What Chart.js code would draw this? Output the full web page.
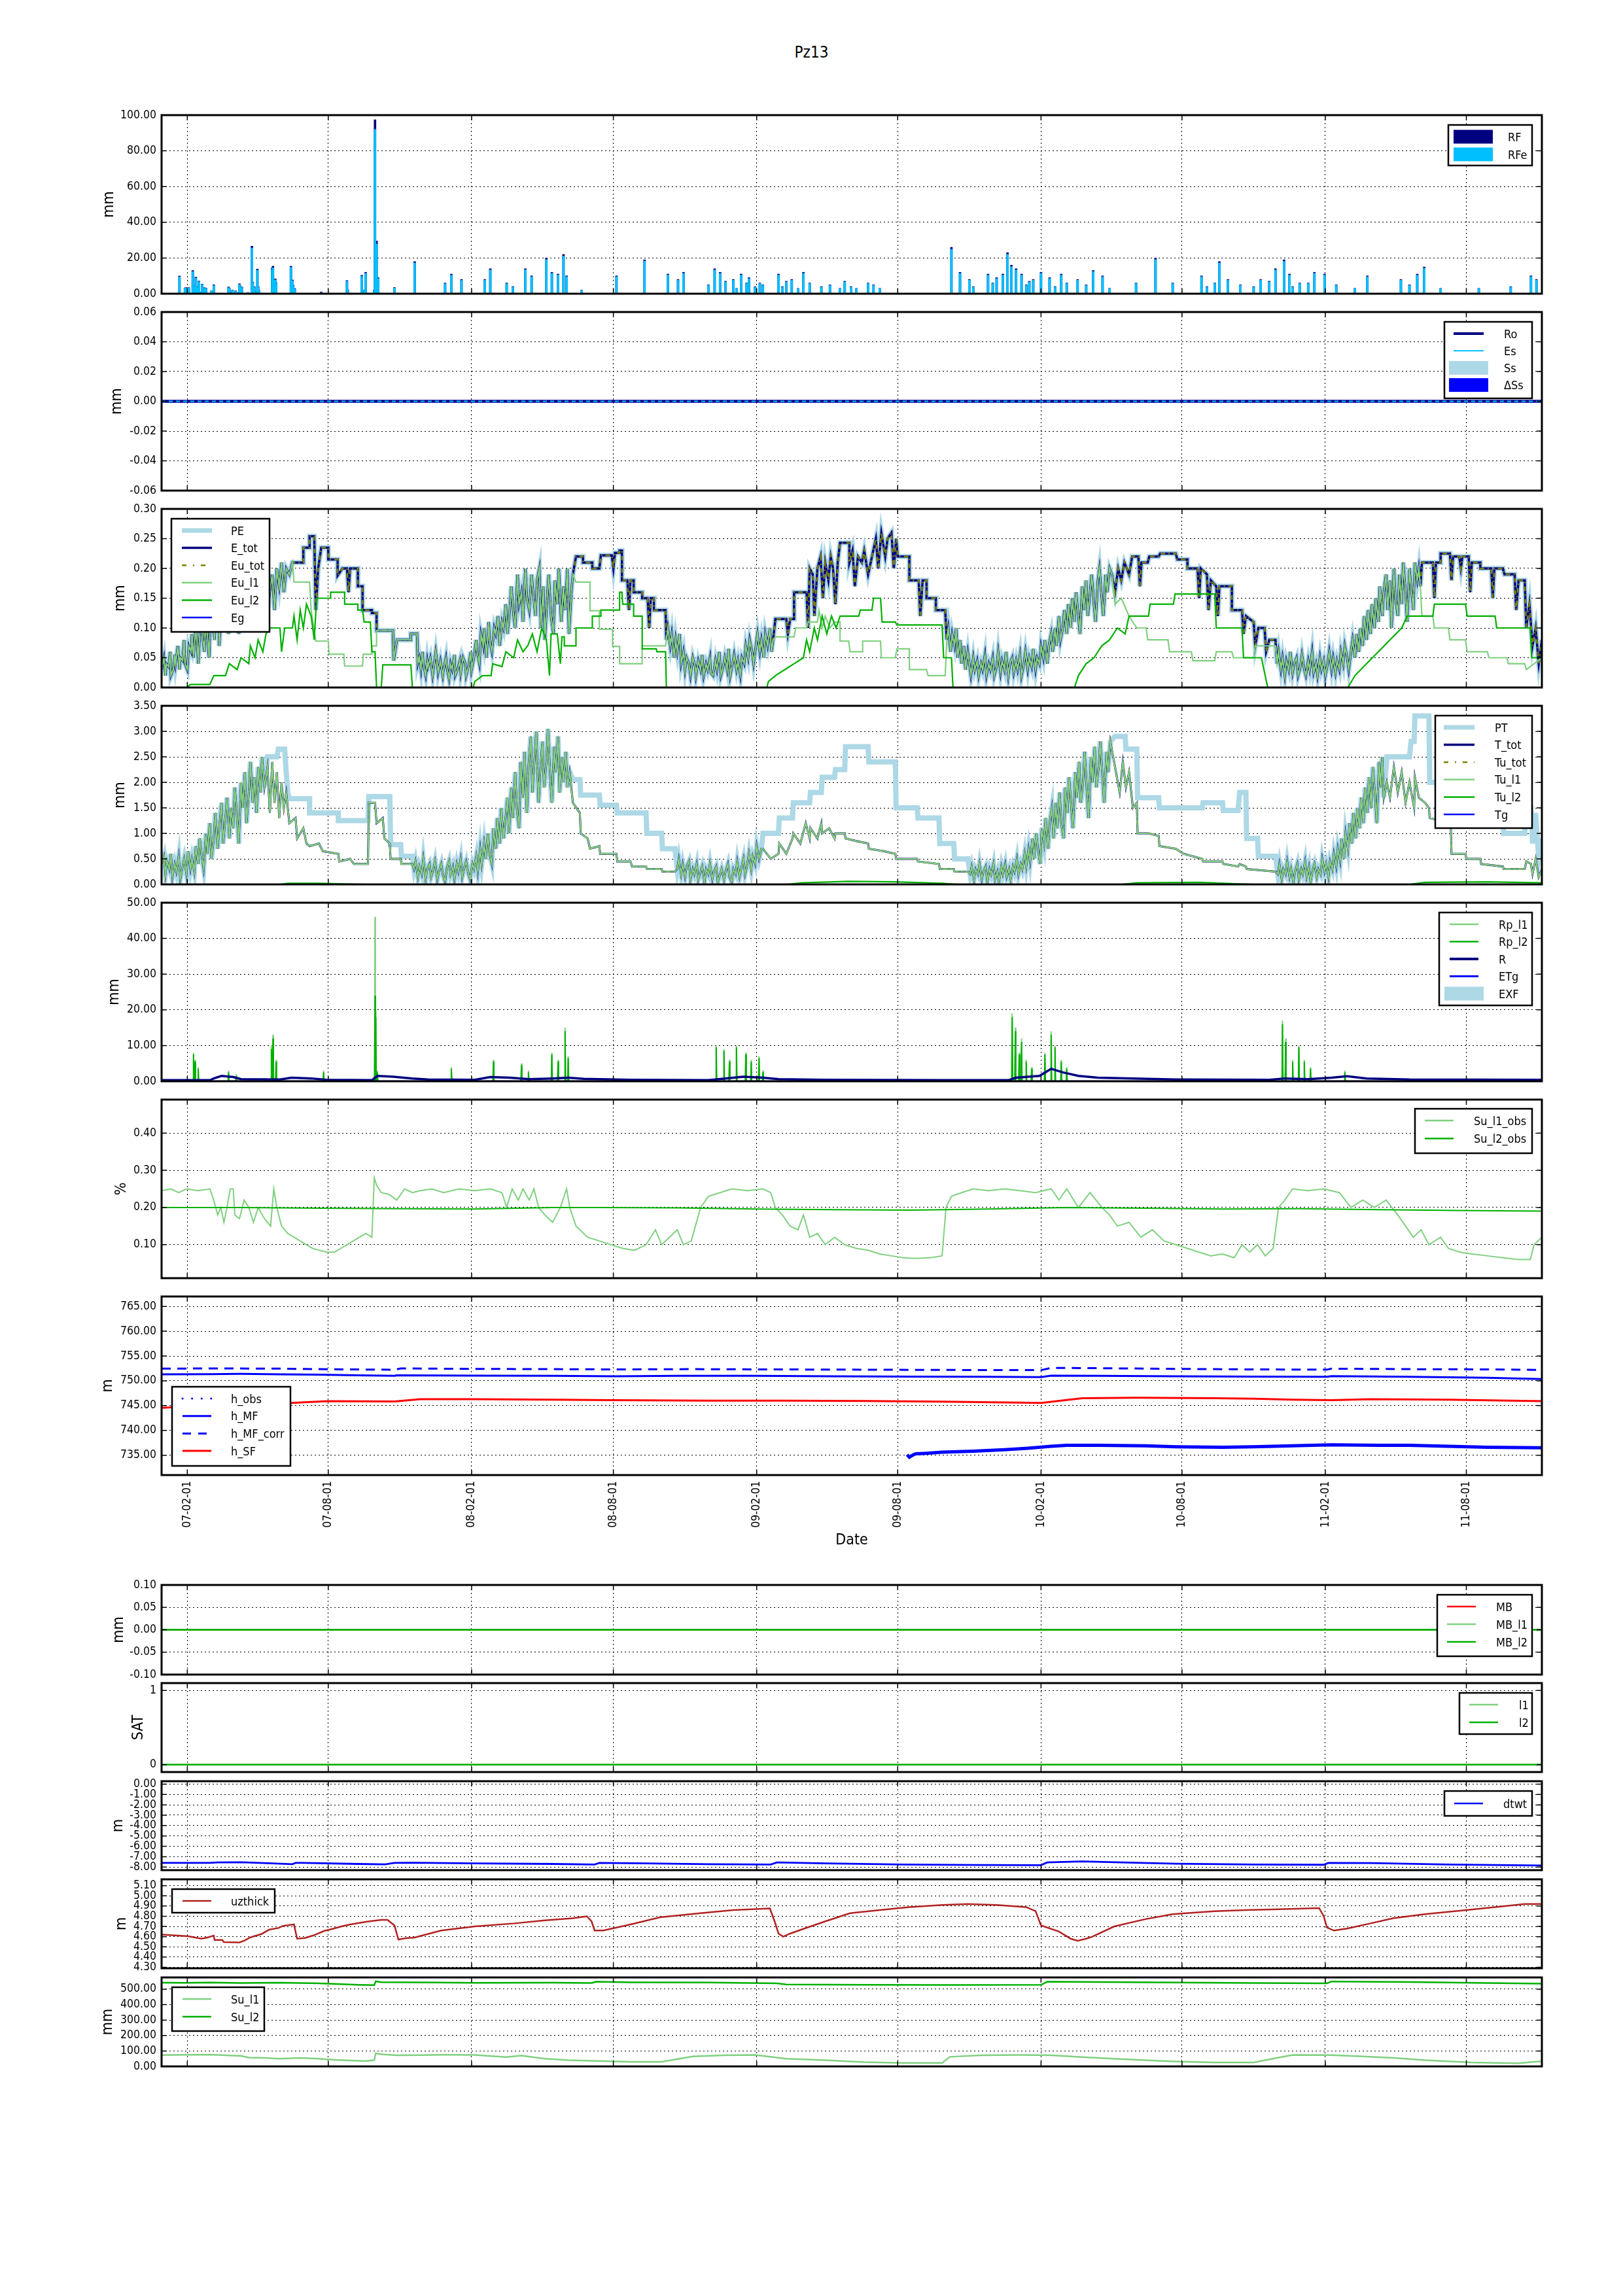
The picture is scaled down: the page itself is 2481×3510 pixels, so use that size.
<!DOCTYPE html>
<html><head><meta charset="utf-8">
<script src="https://cdn.jsdelivr.net/npm/chart.js@4.4.1/dist/chart.umd.min.js"></script>
<style>
body{margin:0;background:#fff;width:2481px;height:3510px;position:relative;overflow:hidden}
canvas{position:absolute;left:0}
#title{position:absolute;top:68px;left:0;width:2481px;text-align:center;font:24px 'DejaVu Sans Condensed','DejaVu Sans',sans-serif;line-height:24px;color:#000}
</style></head><body>
<div id="title">Pz13</div>
<script>
// ---------- x axis (day index, 0 = 2007-01-01) ----------
const xTickDays = [31,212,396,578,762,943,1127,1308,1492,1673];
const xTickLabels = ['07-02-01','07-08-01','08-02-01','08-08-01','09-02-01','09-08-01','10-02-01','10-08-01','11-02-01','11-08-01'];

// ---------- panel 1: rainfall [day, RF, RFe] ----------
const rain = [[21,9.9,9.4],[28,3.2,3.0],[29,3.4,3.2],[31,3.4,3.0],[33,3.4,3.2],[38,13.0,12.4],[39,3.8,3.5],[41,4.4,4.1],[42,9.3,8.8],[44,3.8,3.5],[46,7.1,6.8],[49,1.0,0.8],[50,5.3,5.0],[53,3.4,3.1],[55,3.2,3.0],[62,1.6,1.4],[65,5.0,4.6],[84,3.8,3.4],[85,3.2,3.0],[88,1.0,0.8],[89,2.0,1.8],[93,1.7,1.5],[96,0.7,0.5],[98,5.6,5.2],[99,4.4,4.0],[100,1.3,1.1],[101,3.7,3.4],[109,0.7,0.5],[114,26.6,25.6],[115,6.5,6.0],[117,3.9,3.6],[119,1.3,1.0],[120,0.7,0.5],[121,13.8,13.2],[122,4.0,3.7],[123,2.0,1.8],[140,14.4,13.6],[141,15.4,14.5],[142,6.8,6.4],[143,7.4,7.0],[144,8.3,7.8],[145,6.2,5.8],[164,15.4,14.8],[166,7.7,7.2],[167,4.8,4.4],[169,2.9,2.6],[203,1.0,0.6],[236,7.4,7.0],[237,2.2,1.9],[255,10.3,9.8],[258,2.0,1.8],[260,12.0,11.4],[271,2.0,1.6],[272,97.4,92.0],[273,13.0,12.0],[274,29.5,27.8],[276,9.0,8.5],[297,3.5,3.2],
[323,18,17.2],[362,6,5.6],[370,11,10.4],[383,8,7.5],[413,8,7.6],[420,14,13.3],[441,6,5.6],[449,4,3.7],[465,14,13.4],[473,10,9.5],[492,20,19.1],[499,12,11.4],[507,11,10.5],[514,22,21],[518,10,9.5],[537,2,1.8],[582,10,9.5],[618,19,18.2],[648,11,10.5],[661,8,7.6],[668,12,11.4],[700,5,4.7],[708,14,13.3],[715,12,11.4],[722,7,6.6],[732,8,7.6],[736,3,2.8],[742,11,10.4],[749,6,5.7],[752,9,8.5],[760,4,3.7],[766,6,5.7],[770,5,4.7],[790,11,10.4],[795,4,3.7],[800,7,6.6],[807,8,7.6],[815,3,2.8],[822,12,11.4],[830,6,5.7],[845,4,3.7],[856,5,4.7],[869,3,2.8],[875,7,6.6],[883,4,3.7],[890,3,2.8],[905,6,5.7],[912,5,4.7],[920,3,2.8],[1012,26,24.8],[1023,12,11.4],[1035,8,7.6],[1040,4,3.7],[1059,11,10.4],[1065,6,5.7],[1070,9,8.5],[1078,11,10.4],[1084,23,22],[1089,16,15.2],[1095,14,13.3],[1102,11,10.4],[1108,5,4.7],[1112,7,6.6],[1117,8,7.6],[1127,12,11.4],[1138,9,8.5],[1145,4,3.7],[1153,11,10.4],[1160,6,5.7],[1174,8,7.6],[1185,5,4.7],[1194,13,12.4],[1206,10,9.5],[1215,3,2.8],[1249,6,5.7],[1274,20,19.1],[1296,6,5.7],[1333,10,9.5],[1340,4,3.7],[1350,6,5.7],[1356,18,17.2],[1367,8,7.6],[1383,5,4.7],[1400,4,3.7],[1409,8,7.6],[1420,7,6.6],[1428,14,13.3],[1439,19,18.1],[1446,11,10.4],[1450,4,3.7],[1459,6,5.7],[1470,6,5.7],[1478,12,11.4],[1491,11,10.4],[1506,5,4.7],[1530,3,2.8],[1546,10,9.5],[1589,8,7.6],[1600,5,4.7],[1610,11,10.4],[1619,15,14.3],[1640,3,2.8],[1689,3,2.8],[1730,4,3.7],[1756,10,9.5],[1763,8,7.6]];

// zero series (flat at 0 over the whole period)
const ZERO = [[-2,0],[1770,0]];

// ---------- panel 3: evaporation segments [day, value] ----------
const E_W1 = [[-2,0.03],[1,0.05],[3,0.02],[4,0.04],[7,0.035],[9,0.06],[10,0.02],[13,0.03],[15,0.055],[16,0.04],[19,0.07],[21,0.03],[22,0.05],[25,0.045],[27,0.08],[28,0.04],[31,0.03],[33,0.07],[36,0.06],[37,0.09],[39,0.05],[42,0.1],[44,0.07],[45,0.04],[48,0.11],[50,0.09],[53,0.06],[55,0.12],[56,0.1],[59,0.05],[61,0.13],[64,0.11],[66,0.08],[68,0.14],[71,0.12],[72,0.07],[75,0.15],[77,0.1],[80,0.16],[81,0.13],[84,0.09],[86,0.17],[89,0.14],[90,0.11],[93,0.18],[96,0.15],[97,0.09],[100,0.19],[103,0.13],[105,0.17],[108,0.1],[110,0.2],[113,0.16],[115,0.19],[118,0.12],[121,0.2],[123,0.17],[126,0.14],[129,0.19],[131,0.11],[134,0.18],[137,0.16],[140,0.19],[143,0.13],[146,0.2],[149,0.17],[152,0.21],[155,0.16],[158,0.2],[162,0.19],[166,0.21]];
const E_S1 = [[180,0.21],[180,0.235],[188,0.235],[188,0.254],[194,0.254],[196,0.13],[199,0.2],[203,0.235],[212,0.235],[212,0.215],[224,0.215],[224,0.188],[230,0.2],[236,0.2],[238,0.16],[240,0.2],[250,0.2],[250,0.17],[256,0.17],[256,0.13],[268,0.13],[268,0.125],[274,0.125],[274,0.096],[295,0.096],[296,0.045]];
const E_W2 = [[300,0.08],[318,0.08],[318,0.09],[326,0.09],[327,0.04],[329,0.05],[331,0.03],[333,0.06],[334,0.04],[337,0.02],[339,0.045],[340,0.035],[343,0.05],[346,0.02],[347,0.03],[350,0.06],[352,0.04],[353,0.025],[356,0.045],[359,0.02],[360,0.03],[363,0.05],[364,0.035],[367,0.015],[369,0.04],[371,0.03],[374,0.055],[375,0.02],[378,0.03],[381,0.045],[382,0.025],[385,0.05],[388,0.04],[389,0.02],[392,0.035],[395,0.06],[396,0.03],[399,0.05],[402,0.08],[403,0.06],[406,0.04],[408,0.09],[411,0.07],[412,0.1],[415,0.05],[418,0.11],[419,0.08],[422,0.06],[425,0.1],[427,0.09],[430,0.12],[432,0.07],[435,0.11],[437,0.1],[440,0.14],[442,0.09],[445,0.13],[447,0.17],[450,0.12],[452,0.1],[455,0.19],[457,0.14],[460,0.16],[462,0.11],[465,0.2],[467,0.15],[470,0.13],[473,0.19],[475,0.16],[478,0.12],[480,0.18],[483,0.2],[485,0.1],[488,0.17],[490,0.08],[493,0.15],[495,0.19],[498,0.12],[501,0.09],[503,0.18],[506,0.14],[508,0.2],[511,0.11],[514,0.17],[516,0.13],[519,0.2],[521,0.09],[524,0.16],[526,0.19]];
const E_S2 = [[530,0.22],[539,0.22],[539,0.21],[551,0.21],[551,0.2],[560,0.2],[562,0.222],[576,0.222],[578,0.2],[580,0.226],[586,0.226],[586,0.23],[589,0.23],[589,0.18],[596,0.18],[598,0.13],[600,0.18],[604,0.18],[604,0.16],[615,0.16],[615,0.15],[622,0.15],[624,0.1],[626,0.15],[630,0.15],[630,0.13],[645,0.13]];
const E_W3 = [[646,0.08],[648,0.1],[651,0.07],[653,0.09],[656,0.05],[658,0.08],[660,0.06],[663,0.09],[665,0.04],[668,0.06],[670,0.03],[672,0.05],[675,0.04],[677,0.02],[680,0.05],[683,0.035],[684,0.02],[687,0.045],[690,0.03],[692,0.055],[694,0.02],[697,0.04],[699,0.03],[702,0.05],[703,0.025],[706,0.02],[709,0.045],[711,0.03],[714,0.06],[716,0.02],[719,0.035],[721,0.05],[724,0.03],[726,0.065],[728,0.02],[731,0.04],[733,0.055],[736,0.03],[738,0.045],[741,0.02],[743,0.05],[746,0.04],[748,0.07],[751,0.05],[753,0.08],[756,0.06],[758,0.04],[761,0.07],[763,0.09],[766,0.06],[768,0.08],[771,0.05],[773,0.09],[776,0.07],[779,0.1],[781,0.06],[783,0.08]];
const E_S3 = [[786,0.115],[800,0.115],[802,0.09],[805,0.115],[810,0.115],[810,0.16],[826,0.16],[828,0.1],[830,0.2],[834,0.19],[836,0.12],[840,0.2],[844,0.22],[847,0.15],[850,0.21],[854,0.18],[857,0.22],[860,0.2],[863,0.14],[866,0.21],[869,0.243],[881,0.243],[881,0.21],[885,0.23],[888,0.17],[892,0.22],[897,0.21],[900,0.23],[905,0.19],[910,0.22],[915,0.25],[918,0.2],[922,0.26],[927,0.22],[930,0.25],[935,0.26],[938,0.2],[941,0.25],[943,0.22],[958,0.22],[958,0.18],[970,0.18],[972,0.12],[975,0.18],[980,0.18],[980,0.15],[992,0.15],[992,0.13],[1004,0.13]];
const E_W4 = [[1006,0.08],[1008,0.1],[1011,0.06],[1013,0.09],[1016,0.07],[1018,0.1],[1020,0.05],[1023,0.08],[1025,0.04],[1028,0.07],[1030,0.03],[1033,0.06],[1035,0.04],[1037,0.02],[1040,0.05],[1042,0.03],[1045,0.045],[1047,0.02],[1050,0.04],[1052,0.03],[1055,0.055],[1057,0.02],[1060,0.04],[1062,0.03],[1065,0.05],[1067,0.02],[1070,0.035],[1072,0.06],[1075,0.025],[1077,0.045],[1080,0.03],[1082,0.06],[1085,0.02],[1087,0.04],[1090,0.05],[1092,0.025],[1095,0.045],[1097,0.03],[1100,0.055],[1102,0.02],[1105,0.04],[1107,0.06],[1110,0.03],[1112,0.05],[1115,0.035],[1117,0.065],[1120,0.03],[1122,0.05],[1125,0.04],[1127,0.07],[1130,0.05],[1132,0.08],[1135,0.04],[1137,0.07],[1140,0.09],[1142,0.06],[1145,0.1],[1147,0.07],[1150,0.12],[1152,0.08],[1155,0.1],[1157,0.13],[1160,0.09],[1162,0.14],[1165,0.1],[1167,0.15],[1170,0.11],[1172,0.16],[1175,0.12],[1177,0.09],[1180,0.17],[1182,0.13],[1185,0.18],[1187,0.12],[1190,0.16],[1192,0.19],[1195,0.14],[1197,0.11],[1200,0.18],[1202,0.2],[1205,0.15],[1207,0.12],[1210,0.19],[1212,0.16],[1215,0.2],[1218,0.19]];
const E_S4 = [[1222,0.16],[1226,0.2],[1230,0.18],[1234,0.21],[1240,0.19],[1244,0.22],[1252,0.22],[1254,0.17],[1256,0.21],[1264,0.21],[1266,0.22],[1278,0.22],[1280,0.225],[1300,0.225],[1302,0.215],[1315,0.215],[1315,0.2],[1328,0.2],[1330,0.15],[1332,0.2],[1340,0.19],[1342,0.13],[1345,0.18],[1352,0.17],[1354,0.12],[1356,0.17],[1372,0.17],[1372,0.13],[1385,0.13],[1387,0.09],[1390,0.12],[1400,0.11],[1402,0.07],[1406,0.1],[1414,0.1],[1416,0.06],[1420,0.08],[1428,0.08]];
const E_W5 = [[1430,0.04],[1432,0.06],[1435,0.03],[1437,0.05],[1440,0.02],[1442,0.045],[1445,0.03],[1447,0.06],[1450,0.025],[1452,0.04],[1455,0.05],[1457,0.02],[1460,0.035],[1462,0.055],[1465,0.03],[1467,0.02],[1470,0.045],[1472,0.03],[1475,0.06],[1477,0.025],[1480,0.04],[1482,0.02],[1485,0.05],[1487,0.03],[1490,0.045],[1492,0.02],[1495,0.04],[1497,0.06],[1500,0.03],[1502,0.05],[1505,0.025],[1507,0.045],[1510,0.03],[1512,0.06],[1515,0.04],[1517,0.07],[1520,0.05],[1522,0.03],[1525,0.06],[1527,0.08],[1530,0.05],[1532,0.09],[1535,0.06],[1537,0.1],[1540,0.07],[1542,0.12],[1545,0.08],[1547,0.13],[1550,0.09],[1552,0.14],[1555,0.1],[1557,0.15],[1560,0.11],[1562,0.17],[1565,0.12],[1567,0.16],[1570,0.19],[1572,0.13],[1575,0.18],[1577,0.1],[1580,0.2],[1582,0.15],[1585,0.12],[1587,0.19],[1590,0.14],[1592,0.21],[1595,0.16],[1597,0.11],[1600,0.2],[1602,0.17],[1605,0.13],[1607,0.21],[1610,0.18],[1612,0.2],[1614,0.17]];
const E_S5 = [[1616,0.21],[1630,0.21],[1632,0.15],[1634,0.21],[1640,0.21],[1640,0.225],[1652,0.225],[1654,0.18],[1656,0.22],[1664,0.22],[1666,0.2],[1668,0.22],[1676,0.22],[1678,0.16],[1680,0.21],[1691,0.21],[1691,0.2],[1705,0.2],[1707,0.15],[1709,0.2],[1720,0.2],[1722,0.19],[1735,0.19],[1737,0.13],[1740,0.18],[1748,0.18],[1750,0.1],[1754,0.14],[1758,0.07],[1762,0.1],[1766,0.04],[1770,0.08]];
const L1_S1 = [[168,0.177],[188,0.177],[190,0.13],[196,0.078],[212,0.078],[213,0.056],[232,0.056],[233,0.036],[256,0.036],[257,0.056],[268,0.056],[268,0.07],[274,0.07],[274,0.096],[295,0.096],[296,0.045]];
const L1_S2 = [[530,0.177],[548,0.177],[548,0.129],[560,0.129],[560,0.098],[577,0.098],[577,0.069],[586,0.069],[586,0.04],[615,0.04],[615,0.07],[645,0.07]];
const L1_S3 = [[786,0.085],[810,0.085],[812,0.1],[826,0.1],[828,0.11],[840,0.11],[842,0.13],[846,0.1],[850,0.12],[856,0.1],[862,0.11],[869,0.11],[869,0.078],[880,0.078],[882,0.06],[898,0.06],[898,0.078],[921,0.078],[922,0.05],[940,0.05],[942,0.065],[958,0.065],[958,0.03],[980,0.03],[982,0.02],[1004,0.02]];
const L1_S4 = [[1222,0.14],[1230,0.15],[1240,0.12],[1250,0.1],[1262,0.1],[1264,0.08],[1290,0.08],[1292,0.06],[1320,0.06],[1322,0.045],[1350,0.045],[1352,0.06],[1372,0.06],[1374,0.05],[1400,0.05],[1402,0.07],[1428,0.07]];
const L1_S5 = [[1616,0.12],[1630,0.12],[1632,0.1],[1650,0.1],[1652,0.08],[1672,0.08],[1674,0.06],[1700,0.06],[1702,0.05],[1725,0.05],[1727,0.04],[1748,0.04],[1750,0.03],[1770,0.05]];
const Eu_l2 = [[-2,0],[30,0],[35,0.005],[60,0.005],[65,0.02],[80,0.02],[85,0.04],[95,0.03],[100,0.05],[110,0.04],[112,0.07],[118,0.05],[122,0.08],[128,0.06],[132,0.09],[138,0.1],[150,0.1],[152,0.06],[156,0.1],[166,0.1],[168,0.12],[172,0.08],[176,0.13],[180,0.1],[184,0.14],[190,0.12],[194,0.08],[197,0.15],[215,0.15],[215,0.16],[233,0.16],[233,0.14],[250,0.14],[250,0.13],[256,0.13],[258,0.11],[266,0.11],[268,0.06],[272,0.06],[274,0],[280,0],[282,0.038],[318,0.038],[320,0],[398,0],[400,0.01],[410,0.02],[421,0.02],[423,0.04],[435,0.035],[440,0.06],[450,0.05],[455,0.08],[462,0.06],[468,0.07],[474,0.09],[480,0.06],[486,0.1],[492,0.08],[496,0.02],[498,0.09],[506,0.09],[510,0.04],[512,0.085],[515,0.085],[515,0.07],[530,0.07],[530,0.1],[551,0.1],[551,0.12],[562,0.12],[562,0.13],[586,0.13],[586,0.16],[589,0.16],[590,0.14],[604,0.14],[604,0.12],[615,0.12],[615,0.065],[633,0.065],[634,0.06],[645,0.06],[646,0],[775,0],[777,0.01],[786,0.02],[798,0.03],[810,0.04],[822,0.05],[826,0.08],[830,0.06],[836,0.1],[840,0.08],[846,0.12],[852,0.09],[858,0.12],[864,0.1],[869,0.12],[893,0.12],[895,0.13],[910,0.13],[912,0.15],[921,0.15],[923,0.11],[940,0.11],[942,0.105],[1000,0.105],[1002,0.05],[1012,0.05],[1014,0],[1170,0],[1175,0.02],[1185,0.04],[1195,0.05],[1205,0.07],[1215,0.08],[1225,0.1],[1235,0.09],[1240,0.12],[1265,0.12],[1267,0.14],[1297,0.14],[1299,0.157],[1350,0.157],[1352,0.1],[1385,0.1],[1387,0.05],[1410,0.05],[1418,0],[1521,0],[1530,0.02],[1545,0.04],[1560,0.06],[1575,0.08],[1590,0.1],[1597,0.12],[1630,0.12],[1632,0.14],[1672,0.14],[1674,0.12],[1710,0.12],[1712,0.1],[1755,0.1],[1757,0.05],[1770,0.05]];
const E_tot = [...E_W1,...E_S1,...E_W2,...E_S2,...E_W3,...E_S3,...E_W4,...E_S4,...E_W5,...E_S5];
const Eu_l1 = [...E_W1,...L1_S1,...E_W2,...L1_S2,...E_W3,...L1_S3,...E_W4,...L1_S4,...E_W5,...L1_S5];

// ---------- panel 4: transpiration segments ----------
const T_W1 = [[-2,0.4],[1,0.55],[3,0.2],[5,0.45],[8,0.3],[10,0.6],[12,0.15],[15,0.4],[17,0.25],[20,0.55],[22,0.1],[25,0.35],[27,0.5],[30,0.2],[32,0.65],[35,0.3],[37,0.5],[40,0.25],[42,0.75],[45,0.4],[47,0.9],[50,0.5],[52,0.3],[55,1.0],[57,0.6],[60,1.2],[62,0.5],[65,0.9],[67,1.4],[70,0.7],[72,1.1],[75,1.6],[77,0.8],[80,1.3],[82,1.7],[85,0.9],[87,1.5],[90,1.1],[92,1.9],[95,1.3],[97,0.8],[100,2.0],[102,1.5],[105,2.2],[107,1.2],[110,1.8],[112,2.4],[115,1.6],[117,2.1],[120,1.4],[122,2.3],[125,1.8],[127,2.5],[130,1.9]];
const PT_S1 = [[134,2.5],[146,2.5],[148,2.65],[156,2.65],[158,2.2],[160,1.8],[162,1.68],[188,1.68],[188,1.4],[225,1.4],[225,1.25],[263,1.25],[264,1.72],[291,1.72],[292,0.78],[305,0.78],[306,0.55],[320,0.55]];
const T_S1 = [[134,2.3],[137,1.4],[140,2.4],[143,1.6],[146,2.2],[149,1.3],[152,2.0],[155,1.5],[158,1.8],[162,1.2],[170,1.3],[172,0.9],[180,1.1],[184,0.8],[188,0.75],[200,0.8],[205,0.65],[225,0.6],[226,0.45],[240,0.5],[245,0.4],[263,0.4],[264,1.6],[272,1.6],[274,1.2],[282,1.3],[284,0.9],[291,0.8],[292,0.5],[305,0.5],[306,0.4],[320,0.4]];
const T_W2 = [[322,0.3],[324,0.45],[327,0.15],[329,0.35],[332,0.2],[334,0.5],[337,0.1],[339,0.3],[342,0.4],[344,0.15],[347,0.3],[349,0.45],[352,0.1],[354,0.25],[357,0.4],[359,0.2],[362,0.05],[364,0.3],[367,0.45],[369,0.2],[372,0.35],[374,0.1],[377,0.4],[379,0.25],[382,0.5],[384,0.15],[387,0.35],[389,0.45],[392,0.2],[394,0.1],[397,0.4],[399,0.3],[402,0.55],[404,0.25],[407,0.7],[409,0.4],[412,0.8],[414,0.5],[417,1.0],[419,0.6],[422,0.4],[424,1.1],[427,0.7],[429,1.3],[432,0.8],[434,1.5],[437,0.9],[439,1.2],[442,1.7],[444,1.0],[447,1.9],[449,1.3],[452,2.2],[454,1.5],[457,1.1],[459,2.4],[462,1.7],[464,2.6],[467,1.4],[469,2.3],[472,2.9],[474,1.8],[477,2.5],[479,3.0],[482,1.6],[484,2.2],[487,2.8],[489,1.9],[492,2.4],[494,3.05],[497,2.1],[499,1.6],[502,2.7],[504,2.2],[507,2.9],[509,1.8],[512,2.5],[514,2.0],[517,2.6],[519,1.9],[522,2.2]];
const PT_S2 = [[526,2.05],[535,2.05],[536,1.75],[560,1.75],[561,1.55],[582,1.55],[583,1.4],[620,1.4],[621,1.0],[640,1.0],[641,0.7],[657,0.7]];
const T_S2 = [[526,1.6],[535,1.4],[536,1.0],[545,0.9],[548,0.7],[560,0.75],[561,0.6],[582,0.6],[583,0.45],[600,0.45],[602,0.35],[620,0.35],[621,0.3],[640,0.3],[641,0.25],[657,0.25]];
const T_W3 = [[660,0.3],[662,0.5],[665,0.2],[667,0.4],[670,0.15],[672,0.35],[675,0.45],[677,0.1],[680,0.3],[682,0.2],[685,0.4],[687,0.1],[690,0.25],[692,0.35],[695,0.05],[697,0.3],[700,0.2],[702,0.4],[705,0.1],[707,0.25],[710,0.35],[712,0.05],[715,0.2],[717,0.3],[720,0.1],[722,0.25],[725,0.4],[727,0.15],[730,0.05],[732,0.3],[735,0.2],[737,0.45],[740,0.15],[742,0.3],[745,0.5],[747,0.2],[750,0.4],[752,0.6],[755,0.3],[757,0.55],[760,0.4],[762,0.75],[765,0.5],[768,0.7]];
const PT_S3 = [[770,1.0],[790,1.0],[791,1.3],[808,1.3],[809,1.6],[830,1.6],[831,1.8],[845,1.8],[846,2.1],[862,2.1],[863,2.25],[875,2.25],[876,2.7],[905,2.7],[906,2.4],[940,2.4],[941,1.5],[968,1.5],[969,1.3],[996,1.3],[997,0.8],[1015,0.8],[1016,0.5],[1033,0.5]];
const T_S3 = [[770,0.7],[780,0.5],[790,0.6],[791,0.8],[800,0.6],[808,0.9],[809,1.0],[818,0.8],[825,1.2],[830,0.9],[831,1.1],[840,0.9],[845,1.2],[846,1.0],[855,1.1],[862,0.9],[863,1.0],[875,1.0],[876,0.9],[890,0.85],[905,0.8],[906,0.7],[925,0.65],[940,0.6],[941,0.5],[968,0.5],[969,0.45],[996,0.4],[997,0.3],[1015,0.3],[1016,0.25],[1033,0.25]];
const T_W4 = [[1036,0.2],[1038,0.35],[1041,0.1],[1043,0.3],[1046,0.2],[1048,0.4],[1051,0.1],[1053,0.25],[1056,0.35],[1058,0.05],[1061,0.3],[1063,0.2],[1066,0.4],[1068,0.1],[1071,0.25],[1073,0.05],[1076,0.35],[1078,0.2],[1081,0.4],[1083,0.15],[1086,0.3],[1088,0.1],[1091,0.35],[1093,0.25],[1096,0.5],[1098,0.2],[1101,0.4],[1103,0.3],[1106,0.6],[1108,0.35],[1111,0.7],[1113,0.45],[1116,0.9],[1118,0.5],[1121,1.0],[1123,0.7],[1126,0.4],[1128,1.1],[1131,0.8],[1133,1.3],[1136,0.7],[1138,1.2],[1141,1.5],[1143,0.9],[1146,1.6],[1148,1.1],[1151,1.8],[1153,1.2],[1156,0.9],[1158,1.9],[1161,1.4],[1163,2.1],[1166,1.5],[1168,1.1],[1171,2.2],[1173,1.7],[1176,2.4],[1178,1.6],[1181,2.0],[1183,2.6],[1186,1.8],[1188,1.3],[1191,2.5],[1193,2.0],[1196,2.7],[1198,1.9],[1201,2.3],[1203,2.8],[1206,2.1],[1208,1.6],[1211,2.6],[1213,2.2],[1216,2.8]];
const PT_S4 = [[1222,2.9],[1235,2.9],[1236,2.65],[1250,2.65],[1251,1.7],[1278,1.7],[1279,1.5],[1334,1.5],[1335,1.6],[1360,1.6],[1361,1.45],[1380,1.45],[1382,1.8],[1390,1.8],[1391,0.9],[1405,0.9],[1406,0.55],[1428,0.55]];
const T_S4 = [[1222,2.3],[1228,1.8],[1232,2.4],[1236,1.9],[1240,2.2],[1245,1.5],[1250,1.6],[1251,1.0],[1265,1.0],[1278,0.95],[1279,0.75],[1300,0.7],[1310,0.6],[1334,0.5],[1335,0.45],[1360,0.45],[1361,0.4],[1380,0.35],[1382,0.4],[1390,0.35],[1391,0.3],[1428,0.25]];
const T_W5 = [[1431,0.2],[1433,0.4],[1436,0.1],[1438,0.3],[1441,0.2],[1443,0.45],[1446,0.15],[1448,0.3],[1451,0.05],[1453,0.25],[1456,0.4],[1458,0.1],[1461,0.3],[1463,0.2],[1466,0.45],[1468,0.15],[1471,0.35],[1473,0.05],[1476,0.3],[1478,0.4],[1481,0.15],[1483,0.3],[1486,0.2],[1488,0.5],[1491,0.25],[1493,0.4],[1496,0.15],[1498,0.45],[1501,0.3],[1503,0.6],[1506,0.35],[1508,0.7],[1511,0.45],[1513,0.9],[1516,0.5],[1518,1.0],[1521,0.7],[1523,1.2],[1526,0.8],[1528,1.4],[1531,0.9],[1533,1.5],[1536,1.1],[1538,1.7],[1541,1.2],[1543,1.9],[1546,1.4],[1548,2.1],[1551,1.5],[1553,2.3],[1556,1.7],[1558,1.2],[1561,2.4],[1563,1.9],[1565,2.5],[1567,1.7]];
const PT_S5 = [[1571,2.5],[1600,2.5],[1602,2.8],[1606,2.8],[1607,3.3],[1625,3.3],[1626,2.0],[1653,2.0],[1654,1.65],[1672,1.65],[1673,1.5],[1691,1.5],[1692,1.3],[1720,1.3],[1721,1.0],[1748,1.0],[1750,1.5],[1756,1.5],[1758,0.8],[1762,1.4],[1766,0.5],[1770,0.9]];
const T_S5 = [[1571,2.0],[1575,1.7],[1580,2.3],[1585,1.8],[1590,2.2],[1595,1.6],[1600,2.0],[1606,1.5],[1607,2.1],[1612,1.7],[1620,1.6],[1625,1.5],[1626,1.3],[1653,1.2],[1654,0.6],[1672,0.6],[1673,0.5],[1691,0.5],[1692,0.4],[1720,0.35],[1721,0.3],[1748,0.3],[1750,0.45],[1756,0.4],[1758,0.2],[1762,0.5],[1766,0.15],[1770,0.3]];
const Tu_l2 = [[-2,0],[150,0],[160,0.02],[200,0.02],[260,0],[800,0],[820,0.03],[880,0.06],[940,0.05],[1000,0.02],[1020,0],[1230,0],[1250,0.03],[1330,0.04],[1400,0],[1600,0],[1620,0.04],[1700,0.05],[1770,0.03]];
const PT = [...T_W1,...PT_S1,...T_W2,...PT_S2,...T_W3,...PT_S3,...T_W4,...PT_S4,...T_W5,...PT_S5];
const T_tot = [...T_W1,...T_S1,...T_W2,...T_S2,...T_W3,...T_S3,...T_W4,...T_S4,...T_W5,...T_S5];

// ---------- panel 5: percolation spikes [day, Rp_l1, Rp_l2] and R ----------
const perc = [[39,8,7.5],[41,6,5.5],[45,4,3.5],[84,3,2.5],[94,2,1.5],[139,10,9],[141,13,12],[145,6,5.5],[206,3,2.5],[272,46,24],[273,20,18],[275,3,2.5],[370,4,3.5],[424,6,5.5],[460,5,4.5],[469,3,2.5],[499,8,7.5],[507,6,5.5],[516,15,14],[520,7,6.5],[710,10,9.5],[720,9,8.5],[727,6,5.5],[736,10,9.5],[748,8,7.5],[755,6,5.5],[765,7,6.5],[770,3,2.5],[1090,19,18],[1094,15,14],[1099,8,7.5],[1102,12,11],[1108,6,5.5],[1115,4,3.5],[1132,8,7.5],[1140,14,13],[1145,10,9.5],[1153,6,5.5],[1160,4,3.5],[1437,17,16],[1441,12,11],[1450,6,5.5],[1458,10,9.5],[1465,6,5.5],[1473,4,3.5],[1517,3,2.5]];
const R = [[-2,0.3],[60,0.3],[65,0.8],[75,1.5],[90,1.2],[100,0.6],[150,0.5],[165,1.0],[190,0.8],[210,0.4],[268,0.3],[275,1.5],[295,1.3],[320,0.8],[340,0.5],[400,0.4],[420,1.2],[445,1.0],[470,0.6],[500,0.8],[520,1.0],[540,0.7],[600,0.4],[700,0.3],[745,1.3],[770,1.0],[790,0.6],[850,0.4],[1000,0.3],[1085,0.3],[1095,1.0],[1125,1.5],[1140,3.5],[1155,2.5],[1175,1.5],[1200,1.0],[1300,0.5],[1420,0.4],[1440,0.8],[1470,0.6],[1500,1.0],[1520,1.4],[1545,0.8],[1600,0.5],[1770,0.4]];

// ---------- panel 6: observed soil moisture ----------
const Su_l1_obs = [[-2,0.245],[10,0.25],[20,0.24],[30,0.25],[45,0.245],[60,0.25],[65,0.22],[70,0.18],[74,0.2],[78,0.16],[82,0.2],[86,0.25],[90,0.25],[92,0.18],[98,0.17],[104,0.22],[110,0.2],[116,0.16],[122,0.2],[130,0.17],[138,0.15],[142,0.25],[146,0.2],[152,0.15],[160,0.13],[168,0.12],[176,0.11],[184,0.1],[192,0.09],[200,0.085],[210,0.08],[220,0.08],[228,0.09],[236,0.1],[244,0.11],[252,0.12],[260,0.13],[268,0.12],[271,0.28],[274,0.26],[280,0.24],[290,0.235],[300,0.22],[310,0.25],[320,0.24],[330,0.245],[345,0.25],[360,0.24],[380,0.25],[400,0.245],[420,0.25],[435,0.24],[441,0.2],[448,0.25],[456,0.22],[462,0.25],[470,0.22],[476,0.25],[482,0.2],[490,0.18],[500,0.16],[510,0.2],[518,0.25],[522,0.2],[530,0.15],[545,0.12],[560,0.11],[575,0.1],[590,0.09],[605,0.085],[620,0.1],[632,0.14],[640,0.1],[650,0.12],[660,0.14],[668,0.1],[678,0.11],[690,0.2],[700,0.23],[715,0.24],[730,0.25],[750,0.245],[770,0.25],[780,0.24],[786,0.2],[795,0.18],[805,0.15],[815,0.14],[822,0.18],[830,0.12],[840,0.13],[850,0.1],[862,0.12],[875,0.1],[890,0.09],[905,0.085],[920,0.075],[935,0.07],[950,0.065],[965,0.063],[985,0.065],[1000,0.07],[1005,0.2],[1012,0.23],[1025,0.24],[1040,0.25],[1060,0.245],[1080,0.25],[1100,0.245],[1120,0.24],[1140,0.25],[1150,0.22],[1160,0.25],[1175,0.2],[1190,0.24],[1205,0.2],[1215,0.18],[1225,0.15],[1240,0.16],[1255,0.12],[1270,0.14],[1285,0.11],[1300,0.1],[1315,0.09],[1330,0.08],[1345,0.07],[1360,0.075],[1375,0.065],[1385,0.1],[1395,0.08],[1405,0.1],[1415,0.07],[1425,0.09],[1432,0.2],[1440,0.22],[1450,0.25],[1470,0.245],[1490,0.25],[1510,0.24],[1525,0.2],[1540,0.22],[1555,0.2],[1570,0.22],[1585,0.18],[1595,0.15],[1605,0.12],[1615,0.14],[1625,0.1],[1640,0.12],[1650,0.09],[1665,0.08],[1680,0.075],[1700,0.07],[1720,0.065],[1740,0.06],[1755,0.06],[1760,0.1],[1770,0.12]];
const Su_l2_obs = [[-2,0.2],[100,0.2],[200,0.198],[300,0.197],[400,0.196],[500,0.2],[560,0.2],[660,0.199],[760,0.196],[860,0.194],[960,0.193],[1060,0.196],[1160,0.2],[1260,0.198],[1360,0.196],[1460,0.197],[1560,0.194],[1660,0.192],[1770,0.19]];

// ---------- panel 7: heads ----------
const h_obs = [[955,735.1],[958,734.6],[962,735.0],[966,735.3],[980,735.4],[1000,735.6],[1040,735.8],[1080,736.1],[1110,736.4],[1140,736.8],[1160,737.0],[1200,737.0],[1260,736.9],[1300,736.7],[1360,736.6],[1400,736.7],[1450,736.9],[1500,737.1],[1560,737.0],[1600,737.0],[1650,736.8],[1700,736.6],[1770,736.5]];
const h_MF = [[-2,751.3],[60,751.35],[100,751.4],[150,751.3],[200,751.25],[250,751.1],[297,751.0],[300,751.1],[400,751.05],[500,751.0],[580,750.9],[660,751.0],[760,751.0],[860,750.9],[960,750.85],[1060,750.8],[1127,750.75],[1140,751.05],[1200,751.0],[1300,750.9],[1400,750.85],[1494,750.8],[1500,750.95],[1600,750.8],[1700,750.6],[1770,750.35]];
const h_MF_corr = [[-2,752.45],[60,752.5],[150,752.45],[200,752.35],[280,752.25],[297,752.2],[305,752.5],[400,752.4],[500,752.35],[580,752.3],[680,752.35],[780,752.3],[880,752.25],[980,752.2],[1080,752.15],[1127,752.15],[1140,752.6],[1200,752.55],[1300,752.4],[1400,752.3],[1494,752.25],[1500,752.45],[1600,752.35],[1700,752.3],[1770,752.2]];
const h_SF = [[-2,744.55],[40,744.9],[100,745.3],[160,745.5],[211,745.9],[297,745.85],[330,746.3],[400,746.3],[500,746.2],[580,746.1],[700,746.0],[800,746.0],[900,745.95],[1000,745.8],[1100,745.6],[1127,745.55],[1180,746.5],[1250,746.6],[1350,746.5],[1400,746.4],[1450,746.2],[1500,746.1],[1550,746.3],[1650,746.2],[1770,745.9]];

// ---------- panels 10-12 ----------
const dtwt = [[-2,-7.6],[60,-7.6],[70,-7.55],[100,-7.53],[140,-7.65],[166,-7.72],[170,-7.6],[180,-7.6],[250,-7.7],[285,-7.74],[297,-7.6],[320,-7.58],[400,-7.65],[500,-7.7],[554,-7.75],[560,-7.6],[620,-7.65],[700,-7.72],[780,-7.75],[788,-7.55],[850,-7.65],[950,-7.75],[1050,-7.8],[1127,-7.82],[1135,-7.55],[1180,-7.45],[1230,-7.55],[1300,-7.68],[1400,-7.75],[1490,-7.78],[1496,-7.6],[1550,-7.62],[1650,-7.75],[1770,-7.85]];
const uzthick = [[-2,4.62],[32,4.604],[49,4.58],[56,4.59],[65,4.61],[66,4.567],[76,4.567],[78,4.546],[98,4.544],[104,4.56],[112,4.593],[126,4.625],[136,4.668],[148,4.685],[154,4.706],[168,4.72],[170,4.647],[172,4.58],[182,4.587],[193,4.612],[207,4.657],[215,4.672],[229,4.7],[240,4.72],[263,4.749],[280,4.764],[288,4.765],[297,4.71],[302,4.572],[313,4.587],[322,4.59],[357,4.66],[400,4.7],[451,4.73],[490,4.76],[526,4.78],[544,4.8],[550,4.75],[554,4.66],[565,4.66],[600,4.72],[638,4.79],[690,4.83],[732,4.86],[779,4.876],[785,4.75],[790,4.63],[796,4.6],[805,4.63],[816,4.66],[850,4.75],[882,4.83],[920,4.86],[958,4.89],[1000,4.91],[1033,4.92],[1070,4.91],[1108,4.89],[1120,4.85],[1127,4.71],[1150,4.65],[1165,4.58],[1174,4.56],[1185,4.58],[1193,4.6],[1221,4.7],[1260,4.77],[1296,4.82],[1350,4.85],[1390,4.86],[1440,4.87],[1484,4.88],[1490,4.8],[1494,4.69],[1503,4.66],[1520,4.68],[1550,4.73],[1579,4.78],[1620,4.82],[1673,4.86],[1710,4.89],[1748,4.92],[1770,4.92]];
const Su_l1 = [[-2,73],[30,75],[60,76],[80,72],[100,68],[110,57],[130,55],[150,50],[175,55],[200,50],[220,42],[240,38],[260,35],[271,40],[273,85],[280,78],[300,72],[330,73],[360,75],[400,74],[440,60],[460,70],[490,50],[520,40],[560,35],[600,30],[640,30],[680,65],[720,72],[760,74],[800,50],[850,40],[900,28],[950,22],[1000,22],[1010,62],[1050,72],[1100,74],[1140,72],[1180,60],[1220,50],[1260,40],[1300,32],[1350,25],[1400,25],[1430,55],[1450,74],[1500,73],[1540,65],[1580,55],[1620,40],[1680,25],[1740,20],[1760,30],[1770,33]];
const Su_l2 = [[-2,542],[30,541],[60,543],[100,540],[150,542],[200,538],[250,528],[271,526],[273,551],[280,545],[350,543],[400,541],[500,542],[550,540],[556,548],[600,544],[700,543],[788,538],[800,530],[900,528],[1000,527],[1127,528],[1135,548],[1200,546],[1300,543],[1400,540],[1494,538],[1500,550],[1600,546],[1700,540],[1770,536]];

// ---------- y tick values ----------
const yt1=[0,20,40,60,80,100], yt2=[-0.06,-0.04,-0.02,0,0.02,0.04,0.06], yt3=[0,0.05,0.1,0.15,0.2,0.25,0.3],
  yt4=[0,0.5,1,1.5,2,2.5,3,3.5], yt5=[0,10,20,30,40,50], yt6=[0.1,0.2,0.3,0.4], yt7=[735,740,745,750,755,760,765],
  yt8=[-0.1,-0.05,0,0.05,0.1], yt9=[0,1], yt10=[0,-1,-2,-3,-4,-5,-6,-7,-8],
  yt11=[4.3,4.4,4.5,4.6,4.7,4.8,4.9,5.0,5.1], yt12=[0,100,200,300,400,500];

// ================= drawing =================
const FONT = "'DejaVu Sans Condensed','DejaVu Sans',sans-serif";
const XMIN=-2, XMAX=1770, LEFT=247, RIGHT=2357;
const NAVY='#000080', LBLUE='#add8e6', LGREEN='#80d080', GREEN='#00b000', OLIVE='#808000', BLUE='#0000ff', SKY='#00bfff';
const xy = a => a.map(p=>({x:p[0],y:p[1]}));
function ln(label,data,color,w,extra){return Object.assign({type:'line',label,data:xy(data),borderColor:color,backgroundColor:color,borderWidth:w,pointRadius:0,tension:0,fill:false},extra||{});}
function spikes(tab,col){const out=[];tab.forEach(r=>{out.push([r[0]-0.6,0],[r[0],r[col]],[r[0]+0.6,0]);});return out;}
function ordered(ds){const n=ds.length;ds.forEach((d,i)=>d.order=n-i);return ds;}

const framePlugin = {id:'frame', afterDatasetsDraw(ch){
  const {ctx,chartArea:a,scales}=ch; ctx.save(); ctx.strokeStyle='#000'; ctx.lineWidth=1.5; ctx.setLineDash([]); ctx.beginPath();
  scales.x.ticks.forEach(t=>{const p=scales.x.getPixelForValue(t.value); ctx.moveTo(p,a.bottom); ctx.lineTo(p,a.bottom-8); ctx.moveTo(p,a.top); ctx.lineTo(p,a.top+8);});
  scales.y.ticks.forEach(t=>{const p=scales.y.getPixelForValue(t.value); ctx.moveTo(a.left,p); ctx.lineTo(a.left+8,p); ctx.moveTo(a.right,p); ctx.lineTo(a.right-8,p);});
  ctx.stroke(); ctx.lineWidth=3; ctx.strokeRect(a.left,a.top,a.right-a.left,a.bottom-a.top); ctx.restore();}};

function legendPlugin(L, off){return {id:'lg', afterDraw(ch){
  const c=ch.ctx; c.save();
  c.fillStyle='#fff'; c.fillRect(L.box[0],L.box[1]-off,L.box[2]-L.box[0],L.box[3]-L.box[1]);
  c.lineWidth=2.5; c.strokeStyle='#000'; c.strokeRect(L.box[0],L.box[1]-off,L.box[2]-L.box[0],L.box[3]-L.box[1]);
  L.items.forEach((it,i)=>{const y=L.y0+i*L.dy-off;
    if(it.rect){c.fillStyle=it.c; c.fillRect(L.rx[0],y-10.5,L.rx[1]-L.rx[0],21);}
    else{c.strokeStyle=it.c; c.lineWidth=it.w; c.lineCap=it.cap||'butt'; c.setLineDash(it.dash||[]); c.beginPath(); c.moveTo(L.sx[0],y); c.lineTo(L.sx[1],y); c.stroke(); c.setLineDash([]); c.lineCap='butt';}
    c.fillStyle='#000'; c.font='18px '+FONT; c.textBaseline='middle'; c.textAlign='left'; c.fillText(it.t,L.tx,y+2);});
  c.restore();}};}

function panel(p){
  const padTop=30, padBot=p.xlab?12:30, xH=p.xlab?114:0;
  const cTop=p.top-padTop, cH=padTop+p.h+xH+padBot;
  const cv=document.createElement('canvas'); cv.width=2481; cv.height=cH; cv.style.top=cTop+'px'; cv.style.width='2481px'; cv.style.height=cH+'px';
  document.body.appendChild(cv);
  const padLeft=p.ylx-13.8;
  new Chart(cv.getContext('2d'),{type:'line',data:{datasets:ordered(p.ds)},
    options:{responsive:false,animation:false,devicePixelRatio:1,
      layout:{padding:{left:padLeft,right:2481-RIGHT,top:padTop,bottom:padBot}},
      plugins:{legend:{display:false},tooltip:{enabled:false}},
      scales:{
        x:{type:'linear',position:'bottom',min:XMIN,max:XMAX,offset:false,
          grid:{color:'#000',lineWidth:1,drawTicks:false,offset:false},border:{display:false,dash:[2,4]},
          afterBuildTicks:s=>{s.ticks=xTickDays.map(v=>({value:v}));},
          afterFit:s=>{s.height=xH;},
          ticks:{display:!!p.xlab,autoSkip:false,maxRotation:90,minRotation:90,padding:9,color:'#000',font:{family:FONT,size:17.5},callback:v=>xTickLabels[xTickDays.indexOf(v)]},
          title:{display:!!p.xlab,text:'Date',color:'#000',font:{family:FONT,size:23},padding:0}},
        y:{type:'linear',position:'left',min:p.ymin,max:p.ymax,
          grid:{color:'#000',lineWidth:1,drawTicks:false},border:{display:false,dash:[2,4]},
          afterBuildTicks:s=>{s.ticks=p.yt.map(v=>({value:v}));},
          afterFit:s=>{s.width=LEFT-padLeft;},
          ticks:{autoSkip:false,padding:8,color:'#000',font:{family:FONT,size:17.5},callback:v=>Number(v).toFixed(p.dec)},
          title:{display:true,text:p.ylab,color:'#000',font:{family:FONT,size:23},padding:0}}}},
    plugins:[framePlugin,legendPlugin(p.lg,cTop)]});
}

const big=i=>176+301*i, small=i=>2423+150*i;
const dashdot=[7,5,2,5];

panel({top:big(0),h:273,ymin:0,ymax:100,yt:yt1,dec:2,ylab:'mm',ylx:167,
  ds:[{type:'bar',label:'RF',data:rain.map(r=>({x:r[0],y:r[1]})),backgroundColor:NAVY,barThickness:3,grouped:false},
      {type:'bar',label:'RFe',data:rain.map(r=>({x:r[0],y:r[2]})),backgroundColor:SKY,barThickness:3,grouped:false}],
  lg:{box:[2214,191,2342,253],y0:209,dy:27,sx:[2222,2282],rx:[2222,2282],tx:2305,items:[{t:'RF',c:NAVY,rect:1},{t:'RFe',c:SKY,rect:1}]}});

panel({top:big(1),h:273,ymin:-0.06,ymax:0.06,yt:yt2,dec:2,ylab:'mm',ylx:179,
  ds:[ln('Ss',ZERO,LBLUE,4),ln('ΔSs',ZERO,BLUE,4),ln('Ro',ZERO,NAVY,4),ln('Es',ZERO,SKY,1.8,{borderDash:[6,5]})],
  lg:{box:[2208,492,2342,609],y0:510,dy:26.2,sx:[2222,2268],rx:[2215,2275],tx:2299,items:[{t:'Ro',c:NAVY,w:4},{t:'Es',c:SKY,w:2},{t:'Ss',c:LBLUE,rect:1},{t:'ΔSs',c:BLUE,rect:1}]}});

panel({top:big(2),h:273,ymin:0,ymax:0.3,yt:yt3,dec:2,ylab:'mm',ylx:184,
  ds:[ln('PE',E_tot,LBLUE,8),ln('E_tot',E_tot,NAVY,3.5),ln('Eu_tot',E_tot,OLIVE,2.5,{borderDash:dashdot}),ln('Eu_l1',Eu_l1,LGREEN,2.2),ln('Eu_l2',Eu_l2,GREEN,2.2),ln('Eg',ZERO,BLUE,2)],
  lg:{box:[262,793,412,966],y0:811,dy:26.6,sx:[278,324],tx:353,items:[{t:'PE',c:LBLUE,w:7},{t:'E_tot',c:NAVY,w:3.5},{t:'Eu_tot',c:OLIVE,w:2.5,dash:[7,10,2,10]},{t:'Eu_l1',c:LGREEN,w:2.5},{t:'Eu_l2',c:GREEN,w:2.5},{t:'Eg',c:BLUE,w:2.5}]}});

panel({top:big(3),h:273,ymin:0,ymax:3.5,yt:yt4,dec:2,ylab:'mm',ylx:184,
  ds:[ln('PT',PT,LBLUE,8),ln('T_tot',T_tot,NAVY,3),ln('Tu_tot',T_tot,OLIVE,2.5,{borderDash:dashdot}),ln('Tu_l1',T_tot,LGREEN,2.2),ln('Tu_l2',Tu_l2,GREEN,2.2),ln('Tg',ZERO,BLUE,2)],
  lg:{box:[2194,1094,2342,1266],y0:1112,dy:26.6,sx:[2207,2254],tx:2285,items:[{t:'PT',c:LBLUE,w:7},{t:'T_tot',c:NAVY,w:3.5},{t:'Tu_tot',c:OLIVE,w:2.5,dash:[7,10,2,10]},{t:'Tu_l1',c:LGREEN,w:2.5},{t:'Tu_l2',c:GREEN,w:2.5},{t:'Tg',c:BLUE,w:2.5}]}});

panel({top:big(4),h:273,ymin:0,ymax:50,yt:yt5,dec:2,ylab:'mm',ylx:175,
  ds:[ln('Rp_l1',spikes(perc,1),LGREEN,2),ln('Rp_l2',spikes(perc,2),GREEN,2),ln('R',R,NAVY,3.5),ln('ETg',ZERO,BLUE,2.5),ln('EXF',ZERO,LBLUE,1)],
  lg:{box:[2200,1395,2342,1537],y0:1413,dy:26.5,sx:[2216,2260],rx:[2208,2268],tx:2291,items:[{t:'Rp_l1',c:LGREEN,w:2.5},{t:'Rp_l2',c:GREEN,w:2.5},{t:'R',c:NAVY,w:4},{t:'ETg',c:BLUE,w:3},{t:'EXF',c:LBLUE,rect:1}]}});

panel({top:big(5),h:273,ymin:0.01,ymax:0.49,yt:yt6,dec:2,ylab:'%',ylx:186,
  ds:[ln('Su_l1_obs',Su_l1_obs,LGREEN,2),ln('Su_l2_obs',Su_l2_obs,GREEN,2)],
  lg:{box:[2163,1695,2342,1763],y0:1713,dy:27.4,sx:[2178,2222],tx:2253,items:[{t:'Su_l1_obs',c:LGREEN,w:2.5},{t:'Su_l2_obs',c:GREEN,w:2.5}]}});

panel({top:big(6),h:273,ymin:731,ymax:767,yt:yt7,dec:2,ylab:'m',ylx:165,xlab:true,
  ds:[ln('h_obs',h_obs,BLUE,5),ln('h_MF',h_MF,BLUE,3),ln('h_MF_corr',h_MF_corr,BLUE,3,{borderDash:[14,10]}),ln('h_SF',h_SF,'#ff0000',3)],
  lg:{box:[263,2120,444,2241],y0:2138,dy:26.7,sx:[279,323],tx:353,items:[{t:'h_obs',c:BLUE,w:3,dash:[0.1,14.5],cap:'round'},{t:'h_MF',c:BLUE,w:3},{t:'h_MF_corr',c:BLUE,w:3,dash:[13,11]},{t:'h_SF',c:'#ff0000',w:3}]}});

panel({top:small(0),h:137,ymin:-0.1,ymax:0.1,yt:yt8,dec:2,ylab:'mm',ylx:182,
  ds:[ln('MB',ZERO,'#ff0000',2.5),ln('MB_l1',ZERO,LGREEN,2.5),ln('MB_l2',ZERO,GREEN,2.5)],
  lg:{box:[2197,2438,2342,2532],y0:2456,dy:27,sx:[2212,2256],tx:2287,items:[{t:'MB',c:'#ff0000',w:2.5},{t:'MB_l1',c:LGREEN,w:2.5},{t:'MB_l2',c:GREEN,w:2.5}]}});

panel({top:small(1),h:136,ymin:-0.1,ymax:1.1,yt:yt9,dec:0,ylab:'SAT',ylx:212,
  ds:[ln('l1',ZERO,LGREEN,2.5),ln('l2',ZERO,GREEN,2.5)],
  lg:{box:[2231,2588,2342,2651],y0:2606,dy:27,sx:[2246,2290],tx:2322,items:[{t:'l1',c:LGREEN,w:2.5},{t:'l2',c:GREEN,w:2.5}]}});

panel({top:small(2),h:136,ymin:-8.3,ymax:0.28,yt:yt10,dec:2,ylab:'m',ylx:181,
  ds:[ln('dtwt',dtwt,BLUE,2.8)],
  lg:{box:[2208,2738,2342,2776],y0:2757,dy:27,sx:[2223,2267],tx:2298,items:[{t:'dtwt',c:BLUE,w:2.5}]}});

panel({top:small(3),h:136,ymin:4.29,ymax:5.162,yt:yt11,dec:2,ylab:'m',ylx:186,
  ds:[ln('uzthick',uzthick,'#b22222',2.5)],
  lg:{box:[263,2888,420,2924],y0:2906,dy:27,sx:[279,323],tx:353,items:[{t:'uzthick',c:'#b22222',w:2.5}]}});

panel({top:small(4),h:136,ymin:0,ymax:576,yt:yt12,dec:2,ylab:'mm',ylx:165,
  ds:[ln('Su_l1',Su_l1,LGREEN,2.5),ln('Su_l2',Su_l2,GREEN,2.5)],
  lg:{box:[263,3038,404,3105],y0:3056,dy:27,sx:[279,323],tx:353,items:[{t:'Su_l1',c:LGREEN,w:2.5},{t:'Su_l2',c:GREEN,w:2.5}]}});
</script>
</body></html>
